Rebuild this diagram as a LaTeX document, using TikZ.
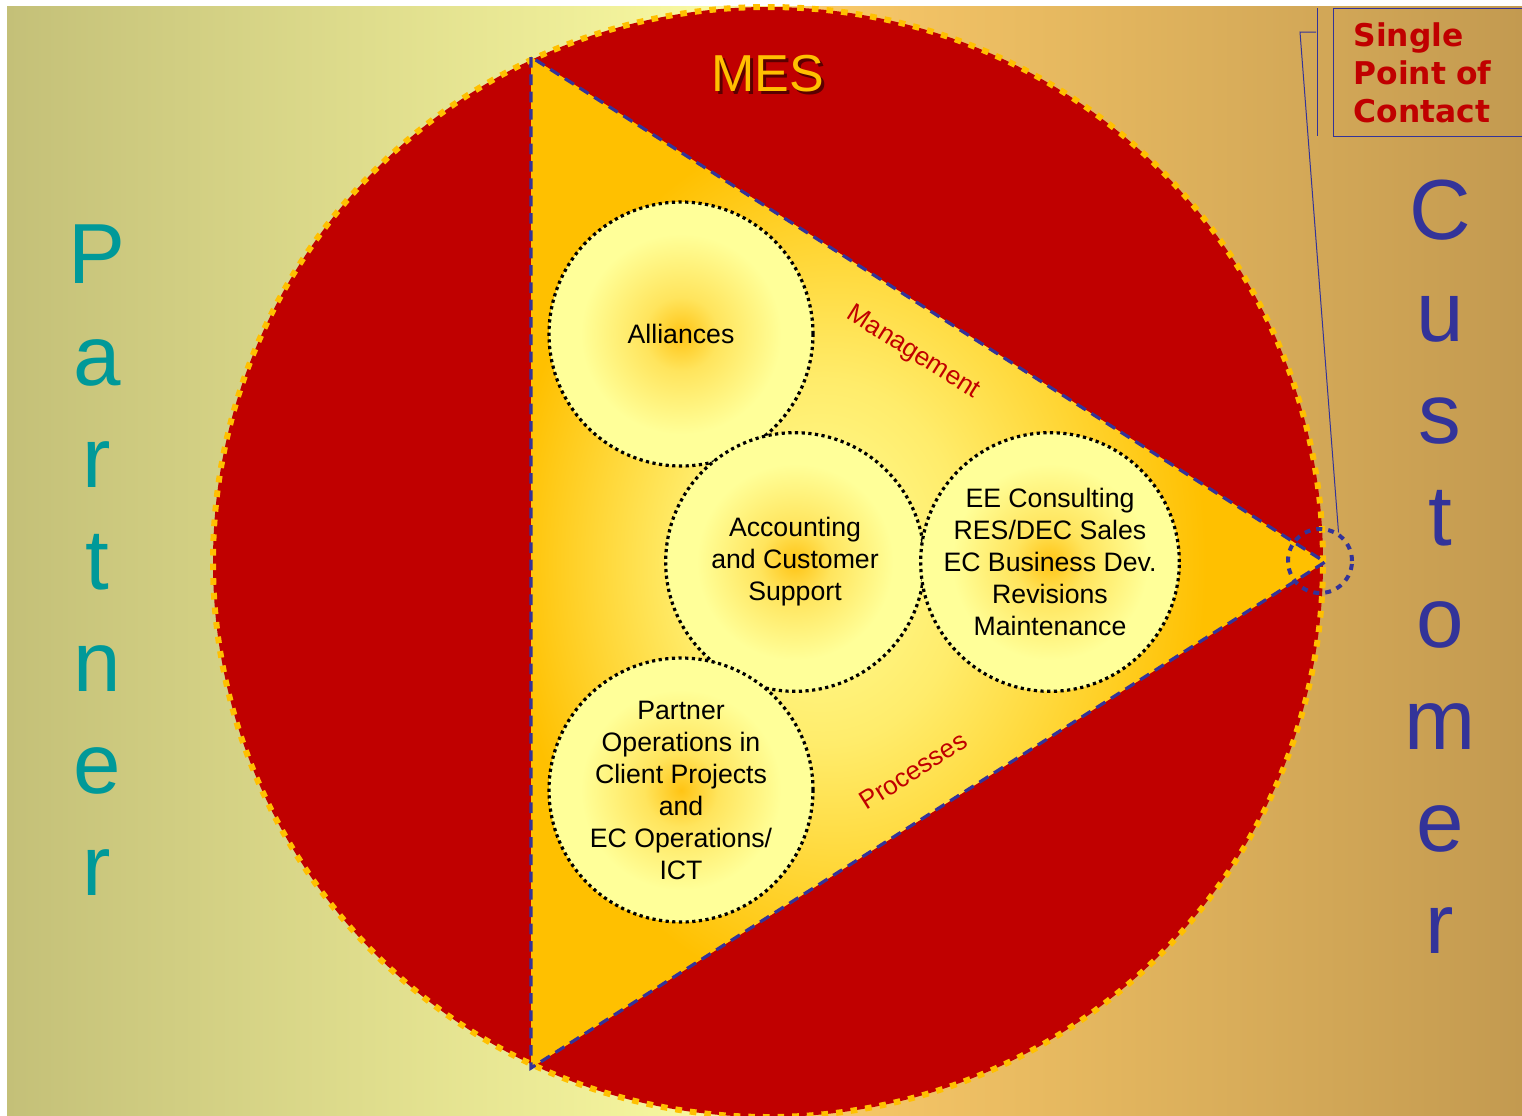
\documentclass[tikz,border=0pt]{standalone}
\usepackage{fontspec}
\setmainfont{Liberation Sans}
\newfontfamily\verdana{DejaVu Sans}

\definecolor{mesred}{HTML}{C00000}
\definecolor{mesorange}{HTML}{FFC000}
\definecolor{mesblue}{HTML}{333399}
\definecolor{partnerteal}{HTML}{009999}
\definecolor{paleyellow}{HTML}{FFFF99}
\definecolor{bubblecore}{HTML}{FFC414}
\definecolor{messhade}{HTML}{5A0000}
\definecolor{bgolive}{HTML}{C4C078}
\definecolor{bgpale}{HTML}{F8F8A0}
\definecolor{bgpeach}{HTML}{F8C868}
\definecolor{bgbrown}{HTML}{C39A50}

\pgfdeclarehorizontalshading{backdrop}{100bp}{color(0bp)=(bgolive); color(25bp)=(bgolive);
  color(48bp)=(bgpale); color(52bp)=(bgpeach); color(75bp)=(bgbrown); color(100bp)=(bgbrown)}
\pgfdeclareradialshading{bubble}{\pgfpoint{0bp}{0bp}}{color(0bp)=(bubblecore);
  color(7bp)=(paleyellow!55!bubblecore); color(19bp)=(paleyellow); color(50bp)=(paleyellow)}
\pgfdeclareradialshading{wedge}{\pgfpoint{-8bp}{0bp}}{color(0bp)=(paleyellow);
  color(9bp)=(paleyellow!70!mesorange); color(22bp)=(mesorange); color(50bp)=(mesorange)}

\tikzstyle{arena}=[shape=circle,
                   fill=mesred,
                   draw=mesorange,
                   line width=4.5pt,
                   dash pattern=on 5pt off 6pt,
                   minimum size=832.5pt,
                   inner sep=0pt]
\tikzstyle{unit}=[shape=circle,
                  shade,
                  shading=bubble,
                  draw=black,
                  line width=2.4pt,
                  dash pattern=on 2.4pt off 2.6pt,
                  minimum size=198pt,
                  inner sep=0pt,
                  align=center,
                  font=\fontsize{20}{24}\selectfont]
\tikzstyle{spot}=[shape=circle,
                  draw=mesblue,
                  line width=3pt,
                  dash pattern=on 4.5pt off 4.5pt,
                  minimum size=48pt,
                  inner sep=0pt]
\tikzstyle{edgeword}=[text=mesred,
                      font=\fontsize{19.5}{22}\selectfont]
\tikzstyle{sideword}=[anchor=north,
                      inner sep=0pt,
                      align=center,
                      font=\fontsize{64}{76.5}\selectfont]
\tikzstyle{leader}=[draw=mesblue,
                    line width=0.75pt]

\begin{document}
\begin{tikzpicture}[x=0.75pt,y=-0.75pt]
\useasboundingbox (0,0) rectangle (1522,1115);
\fill[white] (0,0) rectangle (1522,1115);

% backdrop from partner side to customer side
\shade[shading=backdrop] (7,6) rectangle (1522,1115);

% MES circle
\node[arena] (arena) at (768,562) {};
\node[font=\fontsize{39}{44}\selectfont,text=messhade] (messhadow) at (771,77) {MES};
\node[font=\fontsize{39}{44}\selectfont,text=mesorange] (mes) at (768,74) {MES};

% triangle inside the circle
\coordinate (apex) at (531,57);
\coordinate (foot) at (531,1068);
\coordinate (tip) at (1325,562);
\path[shade,shading=wedge,draw=mesblue,line width=2.4pt,dash pattern=on 8pt off 5pt]
  (apex) -- (foot) -- (tip) -- cycle;

% units
\node[unit] (alliances) at (681,334) {Alliances};
\node[unit,minimum size=194pt] (accounting) at (795,562) {Accounting\\and Customer\\Support};
\node[unit,minimum size=194pt] (consulting) at (1050,562) {EE Consulting\\RES/DEC Sales\\EC Business Dev.\\Revisions\\Maintenance};
\node[unit] (operations) at (681,790) {Partner\\Operations in\\Client Projects\\and\\EC Operations/\\ICT};

% labels along the edges
\node[edgeword,rotate=-32.3] (management) at (913,353) {Management};
\node[edgeword,rotate=32.3] (processes) at (913,771) {Processes};

% partner and customer
\node[sideword,text=partnerteal] (partner) at (97,225) {P\\a\\r\\t\\n\\e\\r};
\node[sideword,text=mesblue] (customer) at (1440,180) {C\\u\\s\\t\\o\\m\\e\\r};

% single point of contact
\node[spot] (spot) at (1320,561) {};
\node[draw=mesblue,line width=0.75pt,anchor=north west,align=left,
      text width=140pt,minimum height=96pt,inner xsep=15pt,text=mesred,
      font=\verdana\bfseries\fontsize{23.5}{28.5}\selectfont] (contact) at (1333,8)
      {Single\\Point of\\Contact};
\coordinate (bartop) at (1317,8);
\coordinate (barbot) at (1317,136);
\coordinate (barmid) at (1316,32);
\coordinate (elbow) at (1300,32);
\draw[leader] (bartop) -- (barbot);
\draw[leader] (barmid) -- (elbow) -- (spot.57);

\end{tikzpicture}
\end{document}
